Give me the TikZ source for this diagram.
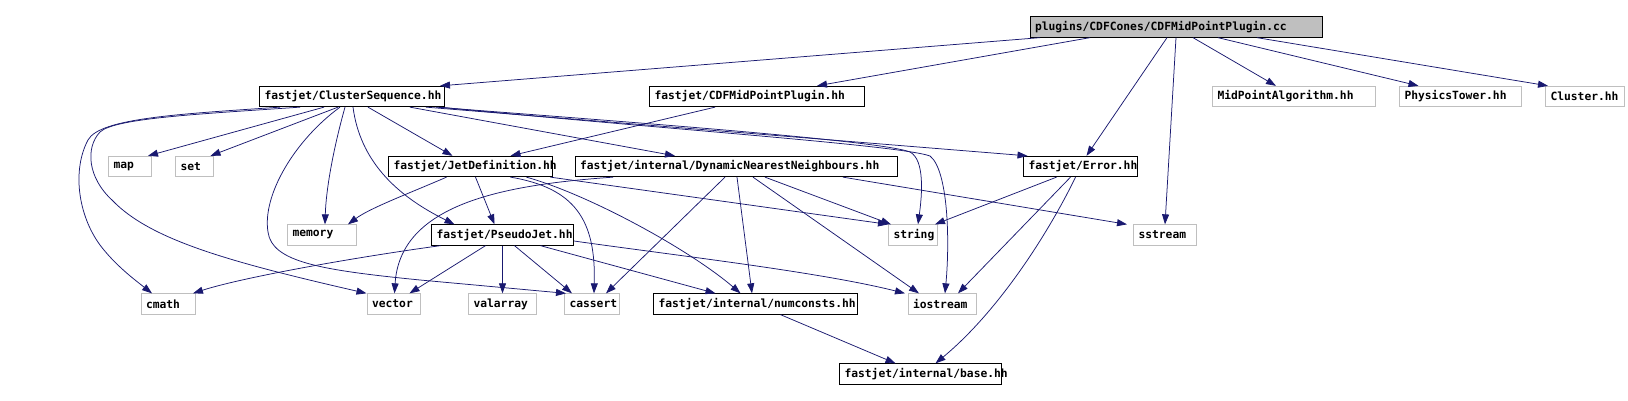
\documentclass[tikz,border=0pt]{standalone}
\usepackage{xcolor}
\usepackage{fontspec}
\usepackage{tikz}
\usetikzlibrary{arrows.meta}
\newfontfamily\doxfont{DejaVu Sans Mono}
\definecolor{edgeblue}{RGB}{25,25,112}
\definecolor{sysgray}{RGB}{191,191,191}

\begin{document}
\begin{tikzpicture}[x=1pt, y=-1pt,
    hdr/.style={draw=black, line width=0.8pt, fill=white, inner xsep=5pt, inner ysep=0pt,
        minimum height=20.5pt, text width=#1, align=left,
        font=\doxfont\bfseries\fontsize{11.3}{13}\selectfont},
    sys/.style={hdr=#1, draw=sysgray},
    rootbox/.style={hdr=#1, fill=sysgray},
    dep/.style={draw=edgeblue, line width=0.75pt, -{Triangle[length=10pt, width=7pt]}}]

    \useasboundingbox[fill=white] (0,0) rectangle (1628,401);

    % =================================================================
    % NODES (text width = box width - 10)
    % =================================================================
    \node[rootbox=282pt] (root) at (1176,27) {plugins/CDFCones/CDFMidPointPlugin.cc};

    \node[hdr=175pt] (cs) at (352,96.5) {fastjet/ClusterSequence.hh};
    \node[hdr=205pt] (cdf) at (757,96.5) {fastjet/CDFMidPointPlugin.hh};
    \node[sys=153pt] (mpa) at (1294,96.5) {MidPointAlgorithm.hh};
    \node[sys=112pt] (tower) at (1460.5,96.5) {PhysicsTower.hh};
    \node[sys=69pt] (cluster) at (1585,96.5) {Cluster.hh};

    \node[sys=33pt] (map) at (130,166.5) {map};
    \node[sys=28pt] (set) at (194.5,166.5) {set};
    \node[hdr=154pt] (jetdef) at (470.5,166.5) {fastjet/JetDefinition.hh};
    \node[hdr=312pt] (dnn) at (736,166.5) {fastjet/internal/DynamicNearestNeighbours.hh};
    \node[hdr=104pt] (err) at (1080.5,166.5) {fastjet/Error.hh};

    \node[sys=59pt] (memory) at (322,235) {memory};
    \node[hdr=132pt] (pj) at (502.5,235) {fastjet/PseudoJet.hh};
    \node[sys=39pt] (string) at (913,235) {string};
    \node[sys=53pt] (sstream) at (1165,235) {sstream};

    \node[sys=44pt] (cmath) at (168,304) {cmath};
    \node[sys=43pt] (vector) at (393.5,304) {vector};
    \node[sys=58pt] (valarray) at (502.5,304) {valarray};
    \node[sys=45pt] (cassert) at (592,304) {cassert};
    \node[hdr=194pt] (numc) at (755.5,304) {fastjet/internal/numconsts.hh};
    \node[sys=58pt] (iostream) at (942,304) {iostream};

    \node[hdr=152pt] (base) at (920.5,374) {fastjet/internal/base.hh};

    % =================================================================
    % EDGES FROM THE ROOT FILE
    % =================================================================
    \draw[dep] ([xshift=-136]root.south) -- ([xshift=88]cs.north);
    \draw[dep] ([xshift=-86]root.south) -- ([xshift=60]cdf.north);
    \draw[dep] ([xshift=-9]root.south) -- ([xshift=6]err.north);
    \draw[dep] (root.south) -- (sstream.north);
    \draw[dep] ([xshift=17]root.south) -- ([xshift=-18]mpa.north);
    \draw[dep] ([xshift=42]root.south) -- ([xshift=-42]tower.north);
    \draw[dep] ([xshift=81]root.south) -- ([xshift=-37]cluster.north);

    % =================================================================
    % EDGES FROM ClusterSequence.hh
    % =================================================================
    \draw[dep] ([xshift=-28]cs.south) -- ([xshift=18]map.north);
    \draw[dep] ([xshift=-14]cs.south) -- ([xshift=16]set.north);
    \draw[dep] ([xshift=-7]cs.south) .. controls (333,150) and (326,190) .. ([xshift=3]memory.north);
    \draw[dep] ([xshift=16]cs.south) -- ([xshift=-18]jetdef.north);
    \draw[dep] ([xshift=1]cs.south) .. controls (360,160) and (395,195) .. ([xshift=-48]pj.north);
    \draw[dep] ([xshift=-12]cs.south) .. controls (295,140) and (262,195) .. (268,232)
        .. controls (272,262) and (320,270) .. (420,280) -- ([xshift=-26]cassert.north);
    \draw[dep] ([xshift=-72]cs.south) .. controls (180,114) and (100,118) .. (88,140)
        .. controls (72,170) and (78,215) .. (100,245)
        .. controls (115,265) and (135,280) .. ([xshift=-16]cmath.north);
    \draw[dep] ([xshift=-52]cs.south) .. controls (200,114) and (115,118) .. (100,132)
        .. controls (85,148) and (88,178) .. (112,200)
        .. controls (150,240) and (230,262) .. ([xshift=-27]vector.north);
    \draw[dep] ([xshift=58]cs.south) -- ([xshift=-61]dnn.north);
    \draw[dep] ([xshift=74]cs.south) -- ([xshift=-53]err.north);
    \draw[dep] ([xshift=84]cs.south) .. controls (600,120) and (880,140) .. (910,152)
        .. controls (925,160) and (922,195) .. ([xshift=5]string.north);
    \draw[dep] ([xshift=88]cs.south) .. controls (650,128) and (900,145) .. (930,156)
        .. controls (948,170) and (950,240) .. ([xshift=3]iostream.north);

    % =================================================================
    % EDGES FROM THE OTHER HEADERS
    % =================================================================
    \draw[dep] ([xshift=-42]cdf.south) -- ([xshift=40]jetdef.north);

    \draw[dep] ([xshift=-24]jetdef.south) .. controls (410,193) and (370,208) .. ([xshift=26]memory.north);
    \draw[dep] ([xshift=5]jetdef.south) -- ([xshift=-8]pj.north);
    \draw[dep] ([xshift=40]jetdef.south) .. controls (575,188) and (596,220) .. ([xshift=2]cassert.north);
    \draw[dep] ([xshift=56]jetdef.south) .. controls (590,195) and (690,250) .. ([xshift=-15]numc.north);
    \draw[dep] ([xshift=80]jetdef.south) -- ([xshift=-25]string.north);

    \draw[dep] ([xshift=-123]dnn.south) .. controls (500,185) and (400,205) .. ([xshift=1]vector.north);
    \draw[dep] ([xshift=-11]dnn.south) -- ([xshift=14]cassert.north);
    \draw[dep] ([xshift=1]dnn.south) -- ([xshift=-3.5]numc.north);
    \draw[dep] ([xshift=17]dnn.south) -- ([xshift=-23]iostream.north);
    \draw[dep] ([xshift=29]dnn.south) -- ([xshift=-22]string.north);
    \draw[dep] ([xshift=107]dnn.south) -- ([xshift=-38]sstream.north);

    \draw[dep] ([xshift=-24]err.south) -- ([xshift=22]string.north);
    \draw[dep] ([xshift=-10]err.south) -- ([xshift=16]iostream.north);
    \draw[dep] ([xshift=-5]err.south) .. controls (1050,230) and (1000,310) .. ([xshift=15]base.north);

    \draw[dep] ([xshift=-62]pj.south) .. controls (350,258) and (240,278) .. ([xshift=25]cmath.north);
    \draw[dep] ([xshift=-17]pj.south) -- ([xshift=16]vector.north);
    \draw[dep] (pj.south) -- (valarray.north);
    \draw[dep] ([xshift=12]pj.south) -- ([xshift=-20]cassert.north);
    \draw[dep] ([xshift=38]pj.south) -- ([xshift=-40]numc.north);
    \draw[dep] ([yshift=-6]pj.east) .. controls (680,256) and (820,272) .. ([xshift=-37]iostream.north);

    \draw[dep] ([xshift=25]numc.south) -- ([xshift=-25]base.north);

\end{tikzpicture}
\end{document}
